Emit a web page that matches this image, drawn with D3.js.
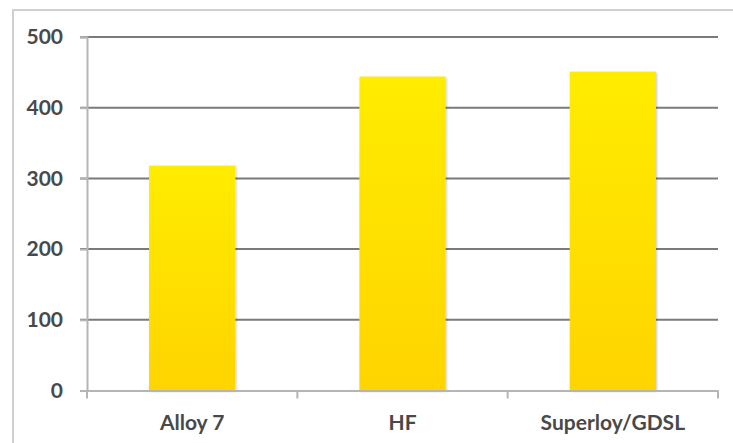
<!DOCTYPE html>
<html><head><meta charset="utf-8">
<script src="https://cdn.jsdelivr.net/npm/d3@7"></script>
<style>body{margin:0;background:#fff}svg{display:block}</style>
</head><body>
<script>
const categories = ["Alloy 7", "HF", "Superloy/GDSL"];
const values = [318, 444, 451];
const yTicks = [0, 100, 200, 300, 400, 500];

(function(){
const W = 733, H = 443;
const svg = d3.select("body").append("svg").attr("width", W).attr("height", H);
const defs = svg.append("defs");
const grad = defs.append("linearGradient").attr("id","g").attr("x1",0).attr("y1",0).attr("x2",0).attr("y2",1);
grad.append("stop").attr("offset","0%").attr("stop-color","#FFEC00");
grad.append("stop").attr("offset","100%").attr("stop-color","#FFD400");
const f = defs.append("filter").attr("id","sh").attr("x","-10%").attr("y","-10%").attr("width","130%").attr("height","130%");
f.append("feDropShadow").attr("dx",1).attr("dy",1).attr("stdDeviation",1.2).attr("flood-color","#000").attr("flood-opacity",0.22);

// outer frame
svg.append("rect").attr("x",13).attr("y",10).attr("width",W).attr("height",H)
  .attr("fill","none").attr("stroke","#d0d0d0").attr("stroke-width",2);

const pl = 87, pr = 718, pt = 37, pb = 390.5;
const x = d3.scaleBand().domain(categories).range([pl, pr]).padding(0);
const y = d3.scaleLinear().domain([0, 500]).range([pb, pt]);

const font = "Lato, sans-serif", fs = "21px", fc = "#494949";

// gridlines
svg.append("g").selectAll("line").data(yTicks.filter(d => d > 0)).join("line")
  .attr("x1", pl - 7).attr("x2", pr)
  .attr("y1", d => y(d)).attr("y2", d => y(d))
  .attr("stroke","#7a7a7a").attr("stroke-width",2);

// y axis
const ya = svg.append("g").attr("transform",`translate(${pl},0)`)
  .call(d3.axisLeft(y).tickValues(yTicks).tickSize(7).tickPadding(17));
ya.select(".domain").attr("stroke","#b5b5b5").attr("stroke-width",2);
ya.selectAll(".tick line").attr("stroke","#b5b5b5").attr("stroke-width",2);
ya.selectAll("text").attr("font-family",font).attr("font-weight","bold")
  .attr("font-size",fs).attr("fill",fc);

// bars
const bw = x.bandwidth() * 0.41;
svg.append("g").selectAll("rect").data(categories).join("rect")
  .attr("x", (d) => x(d) + (x.bandwidth() - bw) / 2)
  .attr("width", bw)
  .attr("y", (d, i) => y(values[i]))
  .attr("height", (d, i) => y(0) - y(values[i]))
  .attr("fill","url(#g)").attr("filter","url(#sh)");

// x axis
const xa = svg.append("g").attr("transform",`translate(0,${pb})`)
  .call(d3.axisBottom(x).tickSize(0).tickPadding(25));
xa.select(".domain").attr("stroke","#b5b5b5").attr("stroke-width",2);
xa.selectAll("text").attr("font-family",font).attr("font-weight","bold")
  .attr("font-size",fs).attr("fill",fc);
// category boundary ticks
const bounds = categories.map(c => x(c)).concat([x.range()[1]]);
svg.append("g").selectAll("line").data(bounds).join("line")
  .attr("x1", d => d).attr("x2", d => d)
  .attr("y1", pb).attr("y2", pb + 8)
  .attr("stroke","#b5b5b5").attr("stroke-width",2);
})();
</script>
</body></html>
